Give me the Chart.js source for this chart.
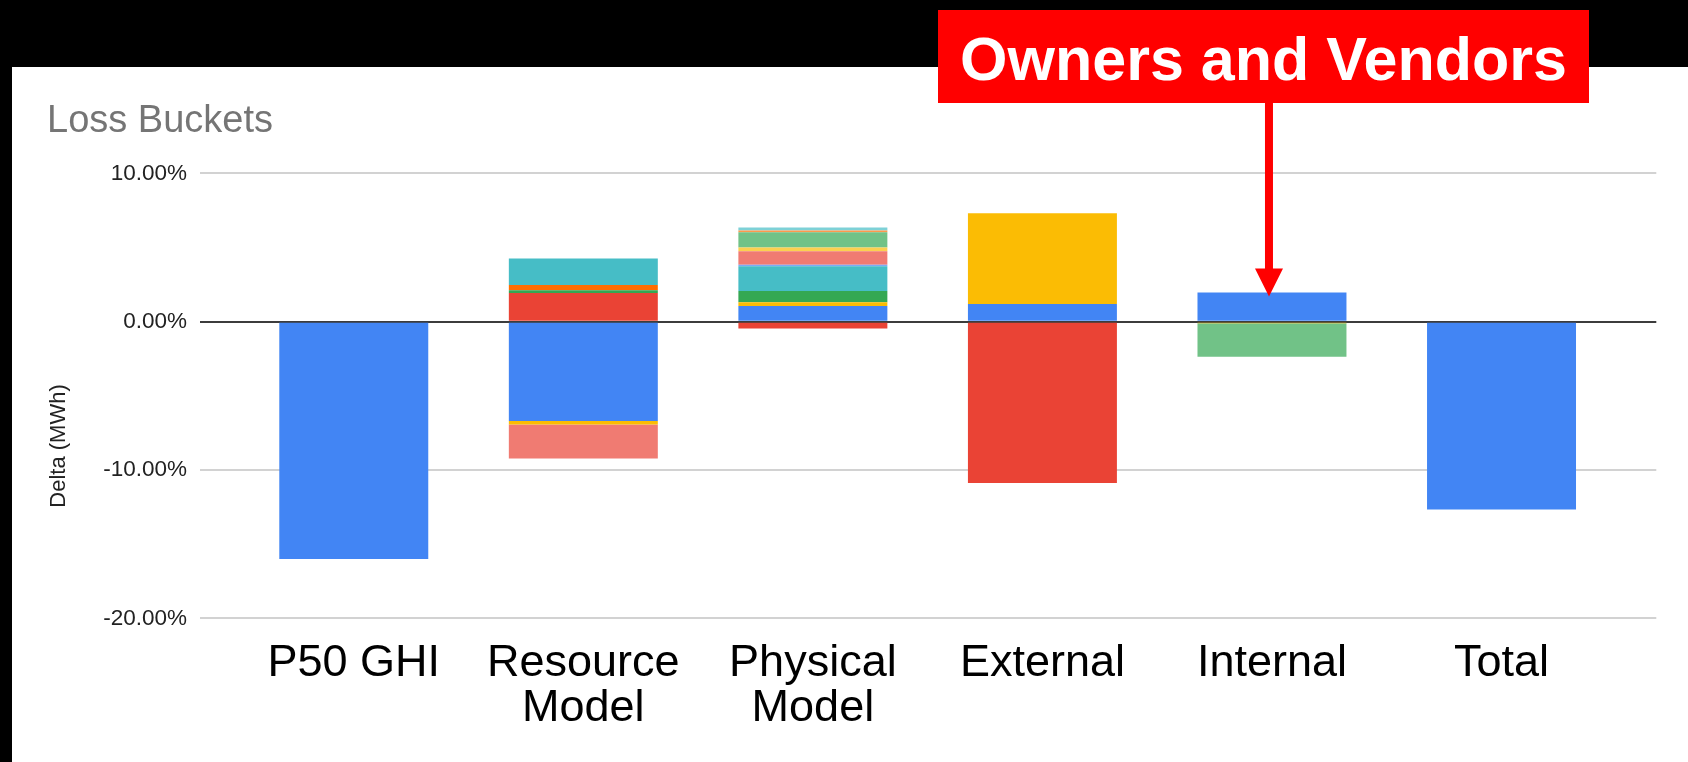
<!DOCTYPE html>
<html>
<head>
<meta charset="utf-8">
<script src="https://cdn.jsdelivr.net/npm/chart.js@4.4.1/dist/chart.umd.min.js"></script>
<style>
  html, body { margin: 0; padding: 0; background: #000; }
  body { width: 1688px; height: 762px; position: relative; overflow: hidden; font-family: "Liberation Sans", Arial, sans-serif; }
  #paper { position: absolute; left: 12px; top: 67px; right: 0; bottom: 0; background: #fff; }
  #wrap { position: absolute; left: 0; top: 0; width: 1688px; height: 762px; }
  #note { position: absolute; left: 938px; top: 10px; width: 651px; height: 93px; background: #ff0000;
          color: #fff; font-weight: bold; font-size: 61px; line-height: 99px; text-align: center; white-space: nowrap; z-index: 5; }
</style>
</head>
<body>
<div id="paper"></div>
<div id="wrap"><canvas id="c" width="1688" height="762"></canvas></div>
<div id="note">Owners and Vendors</div>
<script>
// ---- data (values in %) ----
const categories = ['P50 GHI', ['Resource', 'Model'], ['Physical', 'Model'], 'External', 'Internal', 'Total'];
const yMin = -20;
const yMax = 10;
const yStep = 10;
const chartTitle = 'Loss Buckets';
const yAxisTitle = 'Delta (MWh)';
const annotationCategory = 4; // "Internal"

const series1  = [-16.00, -6.70,  1.06,   1.19,  1.96, -12.66];
const series2  = [  null,  1.93, -0.47, -10.88,  null,   null];
const series3  = [  null, -0.24,  0.24,   6.12, -0.11,   null];
const series4  = [  null,  0.18,  0.77,   null,  null,   null];
const series5  = [  null,  0.36,  null,   null,  null,   null];
const series6  = [  null,  1.78,  1.66,   null,  null,   null];
const series7  = [  null,  null,  0.11,   null,  null,   null];
const series8  = [  null, -2.29,  0.90,   null,  null,   null];
const series9  = [  null,  null,  0.25,   null,  null,   null];
const series10 = [  null,  null,  1.03,   null, -2.25,   null];
const series11 = [  null,  null,  0.13,   null,  null,   null];
const series12 = [  null,  null,  0.20,   null,  null,   null];

const seriesList = [series1, series2, series3, series4, series5, series6, series7, series8, series9, series10, series11, series12];
const palette = ['#4285F4', '#EA4335', '#FBBC04', '#34A853', '#FF6D01', '#46BDC6',
                 '#7BAAF7', '#F07B72', '#FCD04F', '#71C287', '#FF994D', '#7ED1D7'];

const FONT = '"Liberation Sans", Arial, sans-serif';

const datasets = seriesList.map((d, i) => ({
  label: 'Series ' + (i + 1),
  data: d,
  backgroundColor: palette[i],
  borderWidth: 0,
  barPercentage: 0.649,
  categoryPercentage: 1.0
}));

const gridColor = (ctx) => (ctx.tick && ctx.tick.value === 0) ? '#3c3c3c' : '#d2d2d2';

const extrasPlugin = {
  id: 'extras',
  afterDatasetsDraw(chart) {
    const ctx = chart.ctx;
    const ys = chart.scales.y, xs = chart.scales.x;
    // y axis title
    ctx.save();
    ctx.fillStyle = '#222';
    ctx.font = '22px ' + FONT;
    ctx.textAlign = 'center';
    ctx.textBaseline = 'middle';
    ctx.translate(58.5, 446);
    ctx.rotate(-Math.PI / 2);
    ctx.fillText(yAxisTitle, 0, 0);
    ctx.restore();
    // annotation arrow pointing at the top of the "Internal" bar
    let pos = 0;
    seriesList.forEach(s => { const v = s[annotationCategory]; if (v > 0) pos += v; });
    const ax = xs.getPixelForValue(annotationCategory) - 3;
    const tipY = ys.getPixelForValue(pos) + 4;
    ctx.save();
    ctx.fillStyle = '#ff0000';
    ctx.fillRect(ax - 4, 95, 8, tipY - 28 - 95 + 1);
    ctx.beginPath();
    ctx.moveTo(ax - 14, tipY - 28);
    ctx.lineTo(ax + 14, tipY - 28);
    ctx.lineTo(ax, tipY);
    ctx.closePath();
    ctx.fill();
    ctx.restore();
  }
};

new Chart(document.getElementById('c'), {
  type: 'bar',
  data: { labels: categories, datasets },
  options: {
    responsive: false,
    animation: false,
    devicePixelRatio: 1,
    layout: { padding: { left: 47, right: 0, top: 0, bottom: 0 } },
    plugins: {
      legend: { display: false },
      tooltip: { enabled: false },
      title: {
        display: true,
        text: chartTitle,
        align: 'start',
        color: '#757575',
        font: { family: FONT, size: 38, weight: 'normal', lineHeight: 1.2 },
        padding: { top: 98.5, bottom: 29.2 }
      }
    },
    scales: {
      x: {
        stacked: true,
        grid: { display: false },
        border: { display: false },
        ticks: { color: '#000', padding: 15, maxRotation: 0, autoSkip: false,
                 font: { family: FONT, size: 45, lineHeight: 1.0 } },
        afterFit(s) { s.height = 143.7; }
      },
      y: {
        stacked: true,
        position: 'left',
        min: yMin, max: yMax,
        border: { display: false },
        grid: { color: gridColor, tickColor: gridColor, lineWidth: 2, drawTicks: true, tickLength: 39 },
        ticks: { stepSize: yStep, color: '#222', padding: 13,
                 font: { family: FONT, size: 22.5 },
                 callback: (v) => v.toFixed(2) + '%' },
        afterFit(s) { s.width = 192; }
      },
      y2: {
        position: 'right',
        min: yMin, max: yMax,
        border: { display: false },
        grid: { drawOnChartArea: false, color: gridColor, tickColor: gridColor, lineWidth: 2, drawTicks: true, tickLength: 40 },
        ticks: { stepSize: yStep, display: false },
        afterFit(s) { s.width = 71.7; }
      }
    }
  },
  plugins: [extrasPlugin]
});
</script>
</body>
</html>
